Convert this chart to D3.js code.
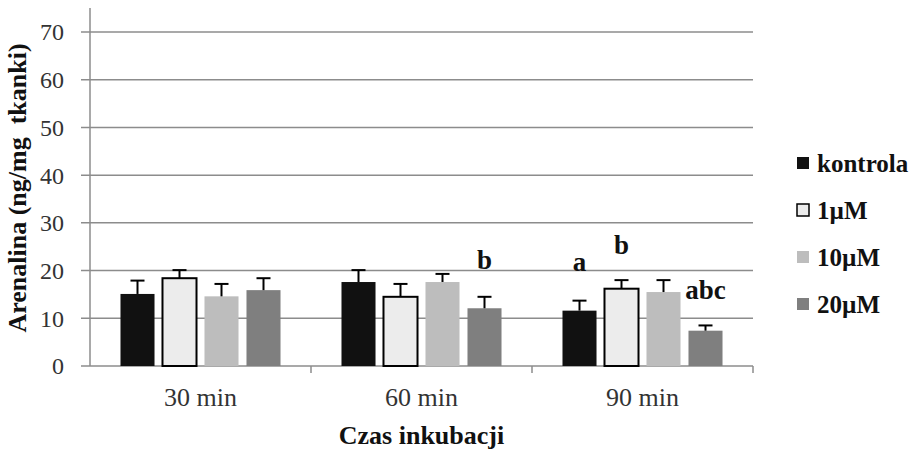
<!DOCTYPE html>
<html>
<head>
<meta charset="utf-8">
<script src="https://cdn.jsdelivr.net/npm/d3@7"></script>
<style>
  body { margin: 0; background: #fff; }
</style>
</head>
<body>
<div id="container"></div>
<script>
const width = 917;
const height = 451;
const margin = { top: 32, bottom: 85, left: 90, right: 164 };
const serif = "Times New Roman";

// data
const categories = ["30 min", "60 min", "90 min"];
const series = ["kontrola", "1\u00b5M", "10\u00b5M", "20\u00b5M"];
const means = [
  [15.1, 18.4, 14.6, 15.9],
  [17.6, 14.5, 17.6, 12.1],
  [11.6, 16.2, 15.5, 7.4]
];
const errTops = [
  [17.9, 20.1, 17.2, 18.4],
  [20.1, 17.2, 19.3, 14.5],
  [13.7, 18.0, 18.0, 8.5]
];
const yTicks = [0, 10, 20, 30, 40, 50, 60, 70];
// significance letters: [category, series, text, value at baseline]
const letters = [
  ["60 min", "20\u00b5M", "b", 20.3],
  ["90 min", "kontrola", "a", 19.9],
  ["90 min", "1\u00b5M", "b", 23.5],
  ["90 min", "20\u00b5M", "abc", 14.0]
];

const colors = ["#111111", "#ececec", "#bdbdbd", "#7f7f7f"];
const gridColor = "#8c8c8c";

const svg = d3.select("#container")
  .append("svg")
  .attr("width", width)
  .attr("height", height)
  .attr("font-family", serif)
  .style("display", "block");

const x0 = d3.scaleBand()
  .domain(categories)
  .range([margin.left, width - margin.right]);

const x1 = d3.scaleBand()
  .domain(series)
  .range([0, x0.bandwidth()])
  .paddingInner(0.19)
  .paddingOuter(0.726);

const y = d3.scaleLinear()
  .domain([0, 70])
  .range([height - margin.bottom, margin.top]);

const color = d3.scaleOrdinal().domain(series).range(colors);

// gridlines
svg.append("g")
  .selectAll("line")
  .data(yTicks)
  .join("line")
  .attr("x1", margin.left - 9)
  .attr("x2", width - margin.right)
  .attr("y1", d => y(d))
  .attr("y2", d => y(d))
  .attr("stroke", gridColor)
  .attr("stroke-width", 1.5);

// y axis line
svg.append("line")
  .attr("x1", margin.left).attr("x2", margin.left)
  .attr("y1", 8).attr("y2", y(0))
  .attr("stroke", gridColor)
  .attr("stroke-width", 1.5);

// x tick marks at category borders
svg.append("g")
  .selectAll("line")
  .data(categories.slice(1).concat(["end"]))
  .join("line")
  .attr("x1", d => d === "end" ? width - margin.right : x0(d))
  .attr("x2", d => d === "end" ? width - margin.right : x0(d))
  .attr("y1", y(0))
  .attr("y2", y(0) + 7)
  .attr("stroke", gridColor)
  .attr("stroke-width", 1.5);

// y tick labels
svg.append("g")
  .selectAll("text")
  .data(yTicks)
  .join("text")
  .attr("x", margin.left - 26)
  .attr("y", d => y(d))
  .attr("dy", "0.35em")
  .attr("text-anchor", "end")
  .attr("font-family", serif)
  .attr("font-size", 24)
  .attr("fill", "#333")
  .text(d => d);

// x tick labels
svg.append("g")
  .selectAll("text")
  .data(categories)
  .join("text")
  .attr("x", d => x0(d) + x0.bandwidth() / 2)
  .attr("y", y(0) + 40)
  .attr("text-anchor", "middle")
  .attr("font-family", serif)
  .attr("font-size", 26)
  .attr("fill", "#333")
  .text(d => d);

// bars
const flat = [];
categories.forEach((c, i) => series.forEach((s, j) => {
  flat.push({ cat: c, ser: s, value: means[i][j], err: errTops[i][j] });
}));

const groups = svg.append("g");

groups.selectAll("rect")
  .data(flat)
  .join("rect")
  .attr("x", d => x0(d.cat) + x1(d.ser))
  .attr("y", d => y(d.value))
  .attr("width", x1.bandwidth())
  .attr("height", d => y(0) - y(d.value))
  .attr("fill", d => color(d.ser))
  .attr("stroke", d => d.ser === "1\u00b5M" ? "#000" : "none")
  .attr("stroke-width", 2);

// error bars (upper only)
const eb = groups.selectAll("g.err")
  .data(flat)
  .join("g")
  .attr("class", "err")
  .attr("stroke", "#000")
  .attr("stroke-width", 2);

eb.append("line")
  .attr("x1", d => x0(d.cat) + x1(d.ser) + x1.bandwidth() / 2)
  .attr("x2", d => x0(d.cat) + x1(d.ser) + x1.bandwidth() / 2)
  .attr("y1", d => y(d.value))
  .attr("y2", d => y(d.err));

eb.append("line")
  .attr("x1", d => x0(d.cat) + x1(d.ser) + x1.bandwidth() / 2 - 7)
  .attr("x2", d => x0(d.cat) + x1(d.ser) + x1.bandwidth() / 2 + 7)
  .attr("y1", d => y(d.err))
  .attr("y2", d => y(d.err));

// significance letters
svg.append("g")
  .selectAll("text")
  .data(letters)
  .join("text")
  .attr("x", d => x0(d[0]) + x1(d[1]) + x1.bandwidth() / 2)
  .attr("y", d => y(d[3]))
  .attr("text-anchor", "middle")
  .attr("font-family", serif)
  .attr("font-size", 27)
  .attr("font-weight", "bold")
  .attr("fill", "#111")
  .text(d => d[2]);

// axis titles
svg.append("text")
  .attr("x", (margin.left + width - margin.right) / 2)
  .attr("y", 444)
  .attr("text-anchor", "middle")
  .attr("font-family", serif)
  .attr("font-size", 26)
  .attr("font-weight", "bold")
  .attr("fill", "#111")
  .text("Czas inkubacji");

svg.append("text")
  .attr("transform", "translate(26,188) rotate(-90)")
  .attr("text-anchor", "middle")
  .attr("font-family", serif)
  .attr("font-size", 26)
  .attr("font-weight", "bold")
  .attr("fill", "#111")
  .text("Arenalina (ng/mg \u00a0tkanki)");

// legend
const legend = svg.append("g")
  .selectAll("g")
  .data(series)
  .join("g")
  .attr("transform", (d, i) => `translate(797, ${163 + i * 47})`);

legend.append("rect")
  .attr("x", 0)
  .attr("y", -6)
  .attr("width", 12)
  .attr("height", 12)
  .attr("fill", d => color(d))
  .attr("stroke", d => d === "1\u00b5M" ? "#000" : "none")
  .attr("stroke-width", 1.5);

legend.append("text")
  .attr("x", 20)
  .attr("dy", "0.35em")
  .attr("font-family", serif)
  .attr("font-size", 25)
  .attr("font-weight", "bold")
  .attr("fill", "#111")
  .text(d => d);
</script>
</body>
</html>
